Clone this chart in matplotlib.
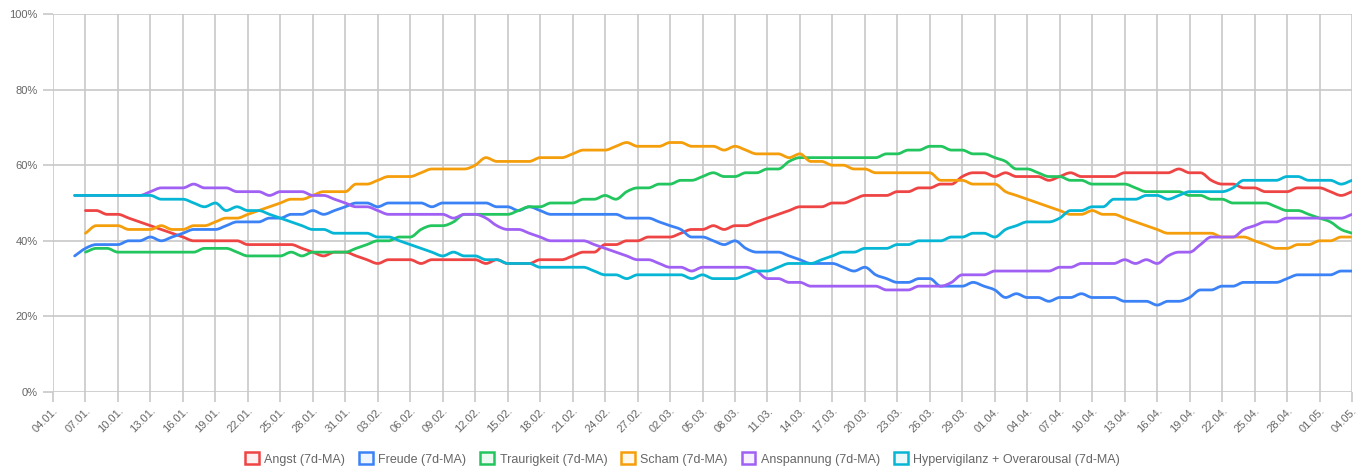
import matplotlib
matplotlib.use("Agg")
import matplotlib.pyplot as plt
import matplotlib.dates as mdates
from matplotlib.patches import Patch, PathPatch
from matplotlib.path import Path
from matplotlib.colors import to_rgba
import numpy as np
import pandas as pd

plt.rcParams['font.family'] = ['Liberation Sans', 'DejaVu Sans']

# daily values from 06.01. to 04.05. (None = no value yet)
dates = pd.date_range("2025-01-06", "2025-05-04", freq="D")

angst = [None, 48, 48, 47, 47, 46, 45, 44, 43, 42, 41, 40, 40, 40, 40, 40, 39, 39, 39, 39,
         39, 38, 37, 36, 37, 37, 36, 35, 34, 35, 35, 35, 34, 35, 35, 35, 35, 35, 34, 35,
         34, 34, 34, 35, 35, 35, 36, 37, 37, 39, 39, 40, 40, 41, 41, 41, 42, 43, 43, 44,
         43, 44, 44, 45, 46, 47, 48, 49, 49, 49, 50, 50, 51, 52, 52, 52, 53, 53, 54, 54,
         55, 55, 57, 58, 58, 57, 58, 57, 57, 57, 56, 57, 58, 57, 57, 57, 57, 58, 58, 58,
         58, 58, 59, 58, 58, 56, 55, 55, 54, 54, 53, 53, 53, 54, 54, 54, 53, 52, 53]

freude = [36, 38, 39, 39, 39, 40, 40, 41, 40, 41, 42, 43, 43, 43, 44, 45, 45, 45, 46, 46,
          47, 47, 48, 47, 48, 49, 50, 50, 49, 50, 50, 50, 50, 49, 50, 50, 50, 50, 50, 49,
          49, 48, 49, 48, 47, 47, 47, 47, 47, 47, 47, 46, 46, 46, 45, 44, 43, 41, 41, 40,
          39, 40, 38, 37, 37, 37, 36, 35, 34, 34, 34, 33, 32, 33, 31, 30, 29, 29, 30, 30,
          28, 28, 28, 29, 28, 27, 25, 26, 25, 25, 24, 25, 25, 26, 25, 25, 25, 24, 24, 24,
          23, 24, 24, 25, 27, 27, 28, 28, 29, 29, 29, 29, 30, 31, 31, 31, 31, 32, 32]

traurigkeit = [None, 37, 38, 38, 37, 37, 37, 37, 37, 37, 37, 37, 38, 38, 38, 37, 36, 36, 36, 36,
               37, 36, 37, 37, 37, 37, 38, 39, 40, 40, 41, 41, 43, 44, 44, 45, 47, 47, 47, 47,
               47, 48, 49, 49, 50, 50, 50, 51, 51, 52, 51, 53, 54, 54, 55, 55, 56, 56, 57, 58,
               57, 57, 58, 58, 59, 59, 61, 62, 62, 62, 62, 62, 62, 62, 62, 63, 63, 64, 64, 65,
               65, 64, 64, 63, 63, 62, 61, 59, 59, 58, 57, 57, 56, 56, 55, 55, 55, 55, 54, 53,
               53, 53, 53, 52, 52, 51, 51, 50, 50, 50, 50, 49, 48, 48, 47, 46, 45, 43, 42]

scham = [None, 42, 44, 44, 44, 43, 43, 43, 44, 43, 43, 44, 44, 45, 46, 46, 47, 48, 49, 50,
         51, 51, 52, 53, 53, 53, 55, 55, 56, 57, 57, 57, 58, 59, 59, 59, 59, 60, 62, 61,
         61, 61, 61, 62, 62, 62, 63, 64, 64, 64, 65, 66, 65, 65, 65, 66, 66, 65, 65, 65,
         64, 65, 64, 63, 63, 63, 62, 63, 61, 61, 60, 60, 59, 59, 58, 58, 58, 58, 58, 58,
         56, 56, 56, 55, 55, 55, 53, 52, 51, 50, 49, 48, 47, 47, 48, 47, 47, 46, 45, 44,
         43, 42, 42, 42, 42, 42, 41, 41, 41, 40, 39, 38, 38, 39, 39, 40, 40, 41, 41]

anspannung = [52, 52, 52, 52, 52, 52, 52, 53, 54, 54, 54, 55, 54, 54, 54, 53, 53, 53, 52, 53,
              53, 53, 52, 52, 51, 50, 49, 49, 48, 47, 47, 47, 47, 47, 47, 46, 47, 47, 46, 44,
              43, 43, 42, 41, 40, 40, 40, 40, 39, 38, 37, 36, 35, 35, 34, 33, 33, 32, 33, 33,
              33, 33, 33, 32, 30, 30, 29, 29, 28, 28, 28, 28, 28, 28, 28, 27, 27, 27, 28, 28,
              28, 29, 31, 31, 31, 32, 32, 32, 32, 32, 32, 33, 33, 34, 34, 34, 34, 35, 34, 35,
              34, 36, 37, 37, 39, 41, 41, 41, 43, 44, 45, 45, 46, 46, 46, 46, 46, 46, 47]

hypervigilanz = [52, 52, 52, 52, 52, 52, 52, 52, 51, 51, 51, 50, 49, 50, 48, 49, 48, 48, 47, 46,
                 45, 44, 43, 43, 42, 42, 42, 42, 41, 41, 40, 39, 38, 37, 36, 37, 36, 36, 35, 35,
                 34, 34, 34, 33, 33, 33, 33, 33, 32, 31, 31, 30, 31, 31, 31, 31, 31, 30, 31, 30,
                 30, 30, 31, 32, 32, 33, 34, 34, 34, 35, 36, 37, 37, 38, 38, 38, 39, 39, 40, 40,
                 40, 41, 41, 42, 42, 41, 43, 44, 45, 45, 45, 46, 48, 48, 49, 49, 51, 51, 51, 52,
                 52, 51, 52, 53, 53, 53, 53, 54, 56, 56, 56, 56, 57, 57, 56, 56, 56, 55, 56]

series = [
    ("Angst (7d-MA)", angst, "#EF4444"),
    ("Freude (7d-MA)", freude, "#3B82F6"),
    ("Traurigkeit (7d-MA)", traurigkeit, "#22C55E"),
    ("Scham (7d-MA)", scham, "#F59E0B"),
    ("Anspannung (7d-MA)", anspannung, "#A060F4"),
    ("Hypervigilanz + Overarousal (7d-MA)", hypervigilanz, "#06B6D4"),
]


def smooth_path(x, y):  # monotone cubic bezier through the points, like the web chart draws it
    n = len(x)
    m = np.zeros(n)
    for i in range(n):
        if i == 0:
            m[i] = y[1] - y[0]
        elif i == n - 1:
            m[i] = y[-1] - y[-2]
        else:
            d0 = y[i] - y[i - 1]
            d1 = y[i + 1] - y[i]
            m[i] = 0 if d0 * d1 <= 0 else (d0 + d1) / 2
    verts = [(x[0], y[0])]
    codes = [Path.MOVETO]
    for i in range(n - 1):
        h = (x[i + 1] - x[i]) / 3
        verts += [(x[i] + h, y[i] + m[i] / 3), (x[i + 1] - h, y[i + 1] - m[i + 1] / 3),
                  (x[i + 1], y[i + 1])]
        codes += [Path.CURVE4] * 3
    return Path(verts, codes)


fig = plt.figure(figsize=(13.65, 4.72), dpi=100)
ax = fig.add_axes([53 / 1365, 1 - 392 / 472, (1352 - 53) / 1365, (392 - 14) / 472])

grid_col = "#c8c8c8"
xnum = mdates.date2num(dates)
handles = []
for label, vals, col in series:
    ok = [v is not None for v in vals]
    xs = xnum[ok]
    ys = np.array([v for v in vals if v is not None], dtype=float)
    ax.add_patch(PathPatch(smooth_path(xs, ys), facecolor="none", edgecolor=col, lw=2.0,
                           capstyle="round", joinstyle="round"))
    handles.append(Patch(facecolor=to_rgba(col, 0.08), edgecolor=col, linewidth=1.8, label=label))

ax.set_ylim(0, 100)
ax.set_yticks(np.arange(0, 101, 20))
ax.set_yticklabels([f"{v}%" for v in range(0, 101, 20)])

ax.set_xlim(pd.Timestamp("2025-01-04"), pd.Timestamp("2025-05-04"))
ticks = pd.date_range("2025-01-04", "2025-05-04", freq="3D")
ax.set_xticks(ticks)
ax.set_xticklabels([t.strftime("%d.%m.") for t in ticks], rotation=45, ha="right",
                   rotation_mode="anchor")

ax.grid(True, color=grid_col, lw=1.2)
ax.set_axisbelow(True)
for s in ax.spines.values():
    s.set_visible(False)
ax.tick_params(axis="both", length=7, width=1.2, color=grid_col, labelcolor="#666666",
               labelsize=8, pad=3)
ax.tick_params(axis="y", pad=4)

fig.legend(handles=handles, loc="center", bbox_to_anchor=(0.5, 1 - 459 / 472), ncol=6,
           frameon=False, fontsize=9, handlelength=1.1, handleheight=1.1,
           handletextpad=0.45, columnspacing=1.1, labelcolor="#666666")

fig.savefig("out.png", dpi=100)
